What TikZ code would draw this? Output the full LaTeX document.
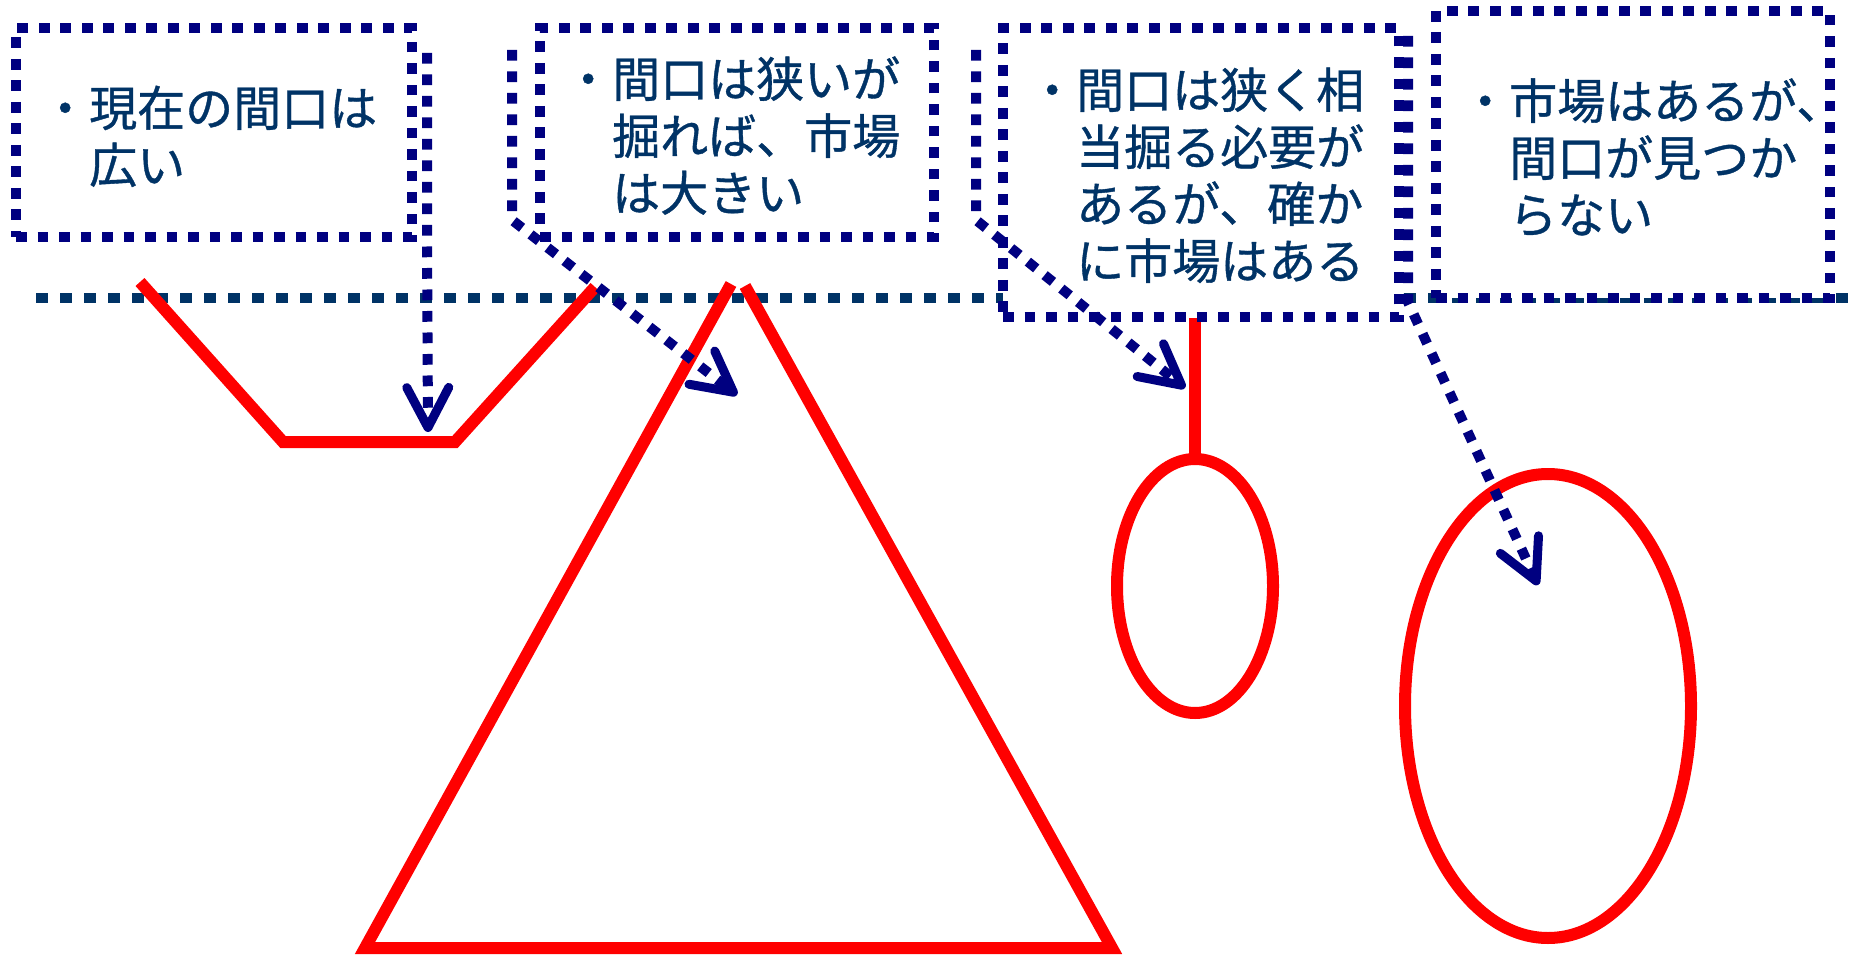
\documentclass[tikz,border=0pt]{standalone}
\usepackage{fontspec}
\newfontfamily\jpfont[RawFeature={embolden=0.8}]{Noto Sans CJK JP}
\usetikzlibrary{arrows.meta}
\definecolor{boxnavy}{RGB}{0,0,128}
\definecolor{txtblue}{RGB}{0,51,102}
\definecolor{mkred}{RGB}{255,0,0}
\newcommand\rowstrut{\rule[-13pt]{0pt}{57pt}}
\renewcommand\arraystretch{0}
\begin{document}
\begin{tikzpicture}[x=1pt,y=-1pt,
  callbox/.style={draw=boxnavy, fill=white, line width=10pt, dash pattern=on 10.75pt off 10.75pt, inner sep=0pt, outer sep=0pt, rectangle},
  leader/.style={draw=boxnavy, line width=10pt, dash pattern=on 10.75pt off 10.75pt, -{Straight Barb[length=40pt,width=42pt,line width=9pt,round]}},
  hline/.style={draw=txtblue, line width=10pt, dash pattern=on 12pt off 12pt},
  redline/.style={draw=mkred, line width=12pt},
  txt/.style={font=\jpfont\fontsize{48}{57}\selectfont, text=txtblue, inner sep=0pt, anchor=base west}]
\useasboundingbox (0,0) rectangle (1860,957);
% horizontal dotted line
\coordinate (hl) at (36,298);
\coordinate (hr) at (1850,298);
\draw[hline] (hl) -- (hr);
% red shapes
\coordinate (r1) at (140,282);
\coordinate (r2) at (283,442);
\coordinate (r3) at (455,442);
\coordinate (r4) at (595,287);
\draw[redline] (r1) -- (r2) -- (r3) -- (r4);
\coordinate (t1) at (731,284);
\coordinate (t2) at (365,948);
\coordinate (t3) at (1112,948);
\coordinate (t4) at (745,286);
\draw[redline] (t1) -- (t2) -- (t3) -- (t4);
\coordinate (e1c) at (1195,586);
\coordinate (v1) at (1195,318);
\coordinate (v2) at (1195,459);
\draw[redline] (v1) -- (v2);
\draw[redline] (e1c) ellipse [x radius=78pt, y radius=127pt];
\coordinate (e2c) at (1548,706);
\draw[redline] (e2c) ellipse [x radius=143pt, y radius=232pt];
% callout boxes
\node[callbox, minimum width=396pt, minimum height=209pt] (box1) at (214,132.5) {};
\node[callbox, minimum width=394pt, minimum height=209pt] (box2) at (737,132.5) {};
\node[callbox, minimum width=396pt, minimum height=289pt] (box3) at (1201,172.5) {};
\node[callbox, minimum width=394pt, minimum height=287pt] (box4) at (1633,154.5) {};
% texts
\node[txt] (txt1) at (41,126) {\begin{tabular}[t]{@{}l@{}l@{}}・&現在の間口は\rowstrut\\&広い\rowstrut\end{tabular}};
\node[txt] (txt2) at (564,97) {\begin{tabular}[t]{@{}l@{}l@{}}・&間口は狭いが\rowstrut\\&掘れば、市場\rowstrut\\&は大きい\rowstrut\end{tabular}};
\node[txt] (txt3) at (1028,108) {\begin{tabular}[t]{@{}l@{}l@{}}・&間口は狭く相\rowstrut\\&当掘る必要が\rowstrut\\&あるが、確か\rowstrut\\&に市場はある\rowstrut\end{tabular}};
\node[txt] (txt4) at (1461,119) {\begin{tabular}[t]{@{}l@{}l@{}}・&市場はあるが、\rowstrut\\&間口が見つか\rowstrut\\&らない\rowstrut\end{tabular}};
% accent bars and leaders
\coordinate (a1t) at (427,53);
\coordinate (a1b) at (427,237);
\coordinate (tip1) at (428,432);
\draw[leader] (a1t) -- (a1b) -- (tip1);
\coordinate (a2t) at (512,50);
\coordinate (a2b) at (512,220);
\coordinate (tip2) at (737,395);
\draw[leader] (a2t) -- (a2b) -- (tip2);
\coordinate (a3t) at (976,50);
\coordinate (a3b) at (976,220);
\coordinate (tip3) at (1185,388);
\draw[leader] (a3t) -- (a3b) -- (tip3);
\coordinate (a4t) at (1408,36);
\coordinate (a4b) at (1408,302);
\coordinate (tip4) at (1538,585);
\draw[leader] (a4t) -- (a4b) -- (tip4);
\end{tikzpicture}
\end{document}
